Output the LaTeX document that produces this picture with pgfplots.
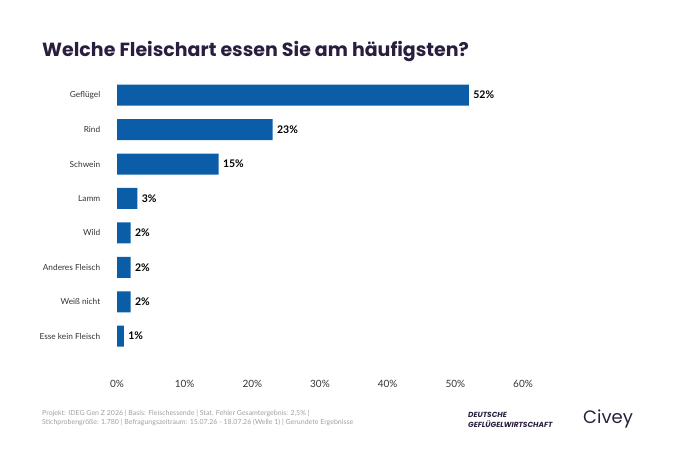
\documentclass[border=0pt]{standalone}
\usepackage{pgfplots}
\pgfplotsset{compat=1.18}
\usepackage{fontspec}
\setmainfont{Lato}
\newfontfamily\pop{Poppins}
\definecolor{barblue}{HTML}{0B5DA7}
\definecolor{titlecol}{HTML}{2A1E3E}
\definecolor{footgray}{HTML}{A0A0A0}
\definecolor{labgray}{HTML}{333333}
\begin{document}
\begin{tikzpicture}[x=1bp,y=1bp]
\path[use as bounding box] (0,0) rectangle (676,450);
\node[anchor=base west, inner sep=0, text=titlecol, font=\pop\fontsize{19bp}{24bp}\selectfont\bfseries] at (42,393) {Welche Fleischart essen Sie am häufigsten?};
\begin{axis}[
  at={(117bp,96.6bp)}, anchor=south west,
  scale only axis, width=406bp, height=275.4bp,
  xbar, bar width=21bp,
  xmin=0, xmax=60, ymin=-0.5, ymax=7.5, y dir=reverse,
  xtick={0,10,...,60},
  xticklabel={\pgfmathprintnumber{\tick}\%},
  ytick={0,...,7},
  yticklabels={Geflügel,Rind,Schwein,Lamm,Wild,Anderes Fleisch,Weiß nicht,Esse kein Fleisch},
  axis line style={draw=none}, major tick style={draw=none},
  /pgf/number format/assume math mode=true,
  xticklabel style={font=\fontsize{10bp}{12bp}\selectfont, text=labgray, anchor=center, yshift=-31bp},
  yticklabel style={font=\fontsize{8.3bp}{10bp}\selectfont, text=labgray, anchor=east, xshift=-9bp},
  nodes near coords={\pgfmathprintnumber{\pgfplotspointmeta}\%},
  nodes near coords style={font=\fontsize{10.5bp}{12bp}\selectfont\bfseries, text=black, anchor=west, xshift=1bp},
  enlargelimits=false,
]
\addplot[fill=barblue, draw=none] coordinates {(52,0) (23,1) (15,2) (3,3) (2,4) (2,5) (2,6) (1,7)};
\end{axis}
\node[anchor=west, inner sep=0, text=footgray, font=\fontsize{7bp}{8bp}\selectfont, align=left] at (42,450-413.3) {Projekt: IDEG Gen Z 2026 | Basis: Fleischessende | Stat. Fehler Gesamtergebnis: 2,5\% |};
\node[anchor=west, inner sep=0, text=footgray, font=\fontsize{7bp}{8bp}\selectfont, align=left] at (42,450-422.3) {Stichprobengröße: 1.780 | Befragungszeitraum: 15.07.26 - 18.07.26 (Welle 1) | Gerundete Ergebnisse};
\node[anchor=west, inner sep=0, text=titlecol, font=\pop\fontsize{7.4bp}{8bp}\selectfont\bfseries\itshape] at (468,450-415) {DEUTSCHE};
\node[anchor=west, inner sep=0, text=titlecol, font=\pop\fontsize{7.4bp}{8bp}\selectfont\bfseries\itshape] at (468,450-424) {GEFLÜGELWIRTSCHAFT};
\node[anchor=west, inner sep=0, text=titlecol, font=\pop\fontsize{18bp}{22bp}\selectfont] at (583,450-419) {Civey};
\end{tikzpicture}
\end{document}
